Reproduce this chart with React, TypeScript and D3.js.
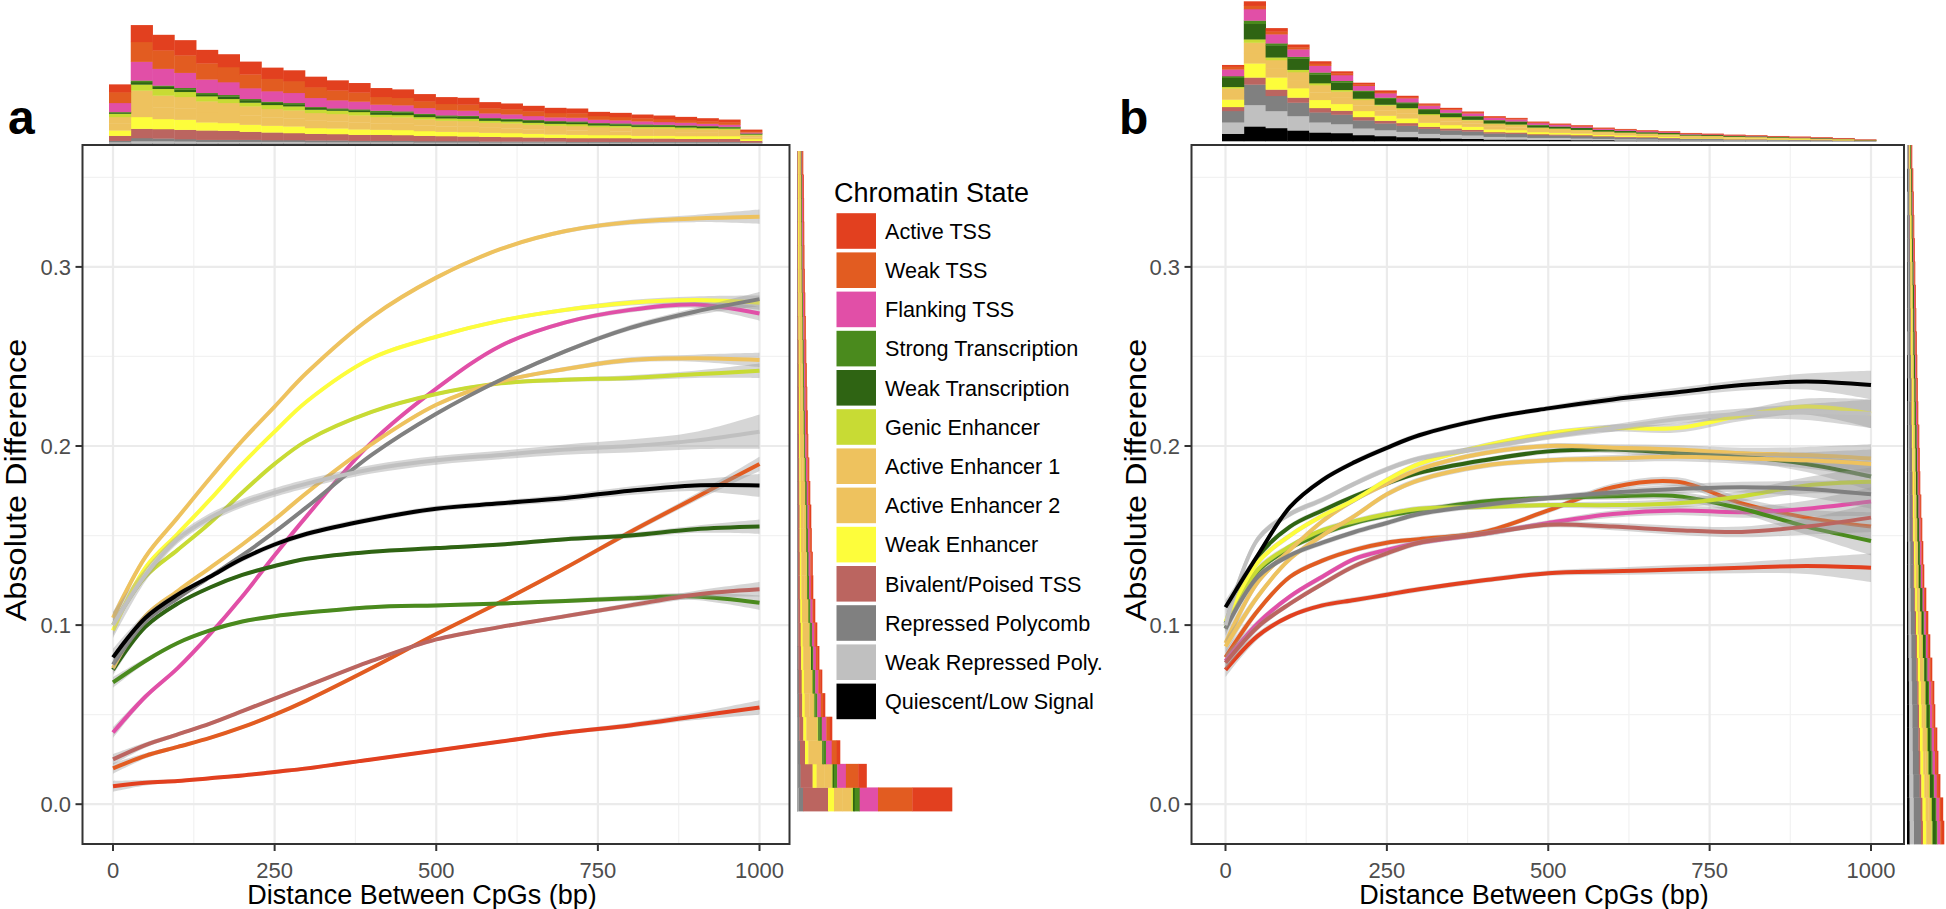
import React from "react";
import * as d3 from "d3";

const FONT = '"Liberation Sans", Arial, Helvetica, sans-serif';

// legend order; the first state sits on top of every stack
const states = [
  "Active TSS", "Weak TSS", "Flanking TSS", "Strong Transcription", "Weak Transcription",
  "Genic Enhancer", "Active Enhancer 1", "Active Enhancer 2", "Weak Enhancer",
  "Bivalent/Poised TSS", "Repressed Polycomb", "Weak Repressed Poly.", "Quiescent/Low Signal",
];
const stateColors = [
  "#E2401F", "#E25C21", "#E14FA7", "#4A8A1D", "#2F6413", "#C8DB34", "#EEC25E",
  "#EEC25E", "#FDFD3B", "#BB6560", "#808080", "#C0C0C0", "#000000",
];

// smoothed curves, sampled at these distances (bp)
const xKnots = [0, 50, 100, 150, 200, 250, 300, 400, 500, 600, 700, 800, 900, 1000];
const xTicks = [0, 250, 500, 750, 1000];
const xMinor = [125, 375, 625, 875];
const yTicks = [0, 0.1, 0.2, 0.3];
const yMinor = [0.05, 0.15, 0.25, 0.35];

// panel a, one row per state (legend order)
const curvesA = [
  [0.010, 0.012, 0.013, 0.0145, 0.016, 0.018, 0.020, 0.025, 0.030, 0.035, 0.040, 0.044, 0.049, 0.054],
  [0.020, 0.027, 0.032, 0.037, 0.043, 0.050, 0.058, 0.076, 0.095, 0.113, 0.132, 0.152, 0.171, 0.190],
  [0.040, 0.060, 0.076, 0.095, 0.116, 0.139, 0.161, 0.202, 0.232, 0.256, 0.269, 0.276, 0.279, 0.274],
  [0.068, 0.080, 0.090, 0.097, 0.102, 0.105, 0.107, 0.110, 0.111, 0.112, 0.1135, 0.115, 0.116, 0.1125],
  [0.075, 0.099, 0.112, 0.121, 0.128, 0.133, 0.137, 0.141, 0.143, 0.145, 0.148, 0.150, 0.1535, 0.155],
  [0.100, 0.127, 0.142, 0.157, 0.174, 0.190, 0.203, 0.219, 0.229, 0.235, 0.237, 0.238, 0.240, 0.242],
  [0.104, 0.138, 0.160, 0.182, 0.203, 0.222, 0.241, 0.272, 0.294, 0.310, 0.320, 0.325, 0.327, 0.328],
  [0.076, 0.105, 0.119, 0.132, 0.145, 0.159, 0.174, 0.201, 0.223, 0.236, 0.243, 0.248, 0.249, 0.248],
  [0.097, 0.132, 0.151, 0.170, 0.190, 0.208, 0.225, 0.249, 0.261, 0.270, 0.276, 0.280, 0.2815, 0.280],
  [0.025, 0.033, 0.039, 0.045, 0.052, 0.059, 0.066, 0.080, 0.092, 0.099, 0.105, 0.111, 0.117, 0.120],
  [0.078, 0.102, 0.115, 0.127, 0.139, 0.152, 0.166, 0.195, 0.218, 0.237, 0.253, 0.266, 0.275, 0.282],
  [0.100, 0.128, 0.148, 0.160, 0.168, 0.174, 0.179, 0.187, 0.192, 0.195, 0.198, 0.200, 0.203, 0.208],
  [0.082, 0.104, 0.117, 0.127, 0.137, 0.145, 0.151, 0.159, 0.165, 0.168, 0.171, 0.175, 0.178, 0.178],
];
const bandA = [0.003, 0.0015, 0.001, 0.001, 0.001, 0.001, 0.001, 0.001, 0.001, 0.001, 0.0012, 0.0015, 0.002, 0.004];
// ribbon widening per state (the weak repressed fit is the noisiest)
const bandScaleA = [1, 1, 1, 1, 1, 1, 1, 1, 1, 1, 1, 2.4, 1.6];

// panel b
const curvesB = [
  [0.075, 0.094, 0.105, 0.111, 0.114, 0.117, 0.120, 0.125, 0.129, 0.130, 0.131, 0.132, 0.133, 0.132],
  [0.082, 0.108, 0.127, 0.136, 0.142, 0.146, 0.148, 0.152, 0.164, 0.177, 0.180, 0.168, 0.160, 0.155],
  [0.080, 0.101, 0.116, 0.127, 0.137, 0.142, 0.146, 0.151, 0.157, 0.162, 0.164, 0.163, 0.165, 0.169],
  [0.098, 0.130, 0.143, 0.151, 0.157, 0.161, 0.164, 0.169, 0.171, 0.172, 0.172, 0.165, 0.155, 0.147],
  [0.101, 0.138, 0.155, 0.164, 0.172, 0.179, 0.185, 0.192, 0.197, 0.198, 0.196, 0.194, 0.190, 0.183],
  [0.100, 0.131, 0.144, 0.153, 0.158, 0.162, 0.165, 0.166, 0.167, 0.167, 0.168, 0.172, 0.178, 0.180],
  [0.090, 0.124, 0.142, 0.158, 0.170, 0.179, 0.187, 0.196, 0.200, 0.199, 0.198, 0.196, 0.195, 0.193],
  [0.088, 0.116, 0.137, 0.150, 0.161, 0.173, 0.181, 0.189, 0.192, 0.193, 0.194, 0.193, 0.192, 0.190],
  [0.102, 0.135, 0.150, 0.161, 0.170, 0.181, 0.190, 0.200, 0.207, 0.210, 0.210, 0.217, 0.222, 0.218],
  [0.079, 0.099, 0.112, 0.123, 0.133, 0.140, 0.146, 0.151, 0.156, 0.155, 0.153, 0.152, 0.155, 0.160],
  [0.098, 0.127, 0.139, 0.146, 0.152, 0.157, 0.162, 0.167, 0.171, 0.174, 0.176, 0.177, 0.176, 0.173],
  [0.100, 0.148, 0.162, 0.170, 0.179, 0.187, 0.193, 0.199, 0.205, 0.210, 0.215, 0.218, 0.219, 0.218],
  [0.110, 0.139, 0.166, 0.181, 0.191, 0.199, 0.206, 0.215, 0.221, 0.226, 0.230, 0.234, 0.236, 0.234],
];
const bandB = [0.004, 0.002, 0.0015, 0.0015, 0.0015, 0.0015, 0.0015, 0.0015, 0.0015, 0.002, 0.0025, 0.003, 0.0045, 0.008];
const bandScaleB = [1, 1, 1, 1, 1, 1, 1, 1, 1, 1, 1, 1, 1];

// top marginal histograms: 30 distance bins, columns in legend order
const topHistA = [
  [23, 32, 27, 2, 3, 10, 20, 20, 16, 15, 4, 2, 1],
  [50, 59, 56, 5, 7, 18, 40, 39, 35, 28, 9, 5, 1],
  [46, 55, 50, 4, 6, 20, 35, 35, 30, 28, 8, 5, 1],
  [45, 52, 45, 5, 7, 15, 34, 34, 30, 28, 7, 4, 1],
  [40, 48, 40, 4, 6, 15, 32, 31, 24, 28, 6, 3, 1],
  [38, 45, 38, 5, 7, 12, 30, 30, 23, 27, 6, 3, 1],
  [38, 41, 32, 4, 7, 11, 28, 27, 21, 24, 6, 3, 1],
  [33, 37, 31, 4, 6, 12, 25, 25, 20, 23, 5, 3, 1],
  [32, 35, 30, 4, 6, 12, 24, 24, 20, 21, 5, 3, 1],
  [31, 32, 27, 3, 5, 10, 23, 22, 17, 20, 5, 2, 1],
  [30, 29, 24, 3, 4, 10, 22, 21, 17, 19, 5, 2, 1],
  [28, 27, 23, 3, 5, 10, 21, 21, 16, 18, 4, 2, 1],
  [26, 23, 18, 5, 7, 7, 19, 19, 15, 18, 4, 2, 1],
  [25, 22, 18, 4, 7, 7, 19, 19, 15, 17, 4, 2, 1],
  [21, 20, 17, 4, 6, 7, 18, 17, 14, 16, 4, 1.5, 0.5],
  [20, 18, 16, 4, 5, 7, 17, 16, 13, 15, 4, 1.5, 0.5],
  [20, 18, 15, 4, 5, 7, 17, 16, 13, 14, 4, 1.5, 0.5],
  [18, 15, 14, 3, 5, 6, 15, 15, 12, 14, 3, 1.5, 0.5],
  [17, 15, 13, 3, 5, 6, 15, 14, 12, 13, 3, 1.5, 0.5],
  [16, 14, 12, 3, 5, 6, 14, 13, 11, 12, 3, 1.5, 0.5],
  [15, 13, 11, 3, 5, 6, 13, 13, 10, 11, 3, 1.5, 0.5],
  [14, 13, 11, 3, 5, 6, 13, 13, 10, 11, 2.5, 1, 0.5],
  [12, 11, 10, 3, 4, 5, 12, 12, 9, 11, 2.5, 1, 0.5],
  [12, 10, 9, 3, 4, 5, 12, 11, 9, 11, 2.5, 1, 0.5],
  [11, 9, 9, 3, 4, 5, 11, 11, 8, 10, 2.5, 1, 0.5],
  [10, 9, 8, 2, 4, 5, 11, 11, 8, 10, 2.5, 1, 0.5],
  [9, 8, 8, 2, 4, 5, 11, 10, 8, 9, 2.5, 1, 0.5],
  [9, 7, 7, 2, 4, 4, 10, 10, 8, 9, 2.5, 1, 0.5],
  [8, 7, 6, 2, 3, 4, 10, 9, 8, 9, 2.5, 1, 0.5],
  [4, 4, 3, 1, 2, 3, 6, 5, 5, 5, 1.2, 0.5, 0.3],
];
const topHistB = [
  [5, 8, 20, 5, 27, 5, 16.5, 16.5, 22, 12, 34, 34, 22],
  [13, 10, 34, 10, 46, 10, 31, 31, 42, 21, 61, 64, 44],
  [10, 8, 27, 6, 36, 8, 26, 26, 36, 19, 45, 51, 39],
  [8, 6, 22, 6, 33, 7, 24, 24, 28, 15, 40, 43, 32],
  [7, 6, 20, 6, 26, 6, 22, 22, 24, 13, 30, 30, 26],
  [6, 5, 17, 5, 22, 5, 18.5, 18.5, 20, 12, 28, 27, 24],
  [5, 4, 14, 4, 20, 4, 16.5, 16.5, 18, 10, 24, 20, 18],
  [4, 4, 13, 4, 17, 3, 15, 15, 15, 8, 20, 18, 15],
  [4, 3, 12, 3, 14, 3, 14, 14, 14, 8, 18, 16, 12],
  [3, 3, 10, 3, 12, 3, 11.5, 11.5, 12, 6, 15, 13, 9],
  [3, 2, 9, 3, 10, 3, 10.5, 10.5, 10, 6, 13, 11, 8],
  [3, 2, 8, 2, 9, 2, 9.5, 9.5, 9, 5, 12, 10, 7],
  [2, 2, 7, 2, 8, 2, 8, 8, 8, 4, 10, 8, 5],
  [2, 2, 6, 2, 7, 2, 7.5, 7.5, 7, 4, 10, 7, 5],
  [2, 2, 5, 2, 6, 2, 6, 6, 6, 3, 8, 6, 4],
  [2, 1, 5, 1, 5, 2, 5.5, 5.5, 5, 3, 7, 6, 4],
  [2, 1, 4, 1, 5, 1, 5, 5, 5, 3, 7, 5, 3],
  [2, 1, 3, 1, 4, 1, 4.5, 4.5, 4, 2, 6, 4, 3],
  [1, 1, 3, 1, 4, 1, 4, 4, 4, 2, 5, 4, 2],
  [1, 1, 3, 1, 3, 1, 3.5, 3.5, 3, 2, 5, 3, 2],
  [1, 1, 2, 1, 3, 1, 3.5, 3.5, 3, 2, 4, 2, 2],
  [1, 1, 2, 1, 2, 1, 3, 3, 2, 1, 3, 2, 2],
  [1, 0.5, 2, 0.5, 2, 1, 2.5, 2.5, 2, 1, 3, 2, 2],
  [1, 0.5, 1.5, 0.5, 2, 0.5, 2.5, 2.5, 2, 1, 2.5, 1.5, 1],
  [0.5, 0.5, 1.5, 0.5, 1.5, 0.5, 2, 2, 2, 1, 2.5, 1.5, 1],
  [0.5, 0.5, 1, 0.5, 1.5, 0.5, 2, 2, 1.5, 1, 2, 1, 1],
  [0.5, 0.5, 1, 0.5, 1, 0.5, 1.5, 1.5, 1.5, 1, 2, 1, 0.5],
  [0.5, 0.3, 1, 0.3, 1, 0.4, 1.5, 1.5, 1, 0.5, 1.5, 1, 0.5],
  [0.4, 0.3, 0.8, 0.3, 0.8, 0.4, 1.25, 1.25, 1, 0.5, 1, 0.5, 0.5],
  [0.2, 0.1, 0.4, 0.1, 0.4, 0.2, 0.5, 0.5, 0.5, 0.2, 0.5, 0.2, 0.2],
];

// right marginal histograms: absolute-difference bins, lowest bin first
const sideHistA = [
  [39.7, 34.3, 18.3, 5, 1.7, 1.7, 8.7, 8.6, 6, 25, 4.5, 1.2, 0.3],
  [8.3, 12.3, 8.7, 3.3, 1.3, 1, 7.5, 7.5, 4, 12, 2.5, 0.8, 0.3],
  [3.3, 5, 5.7, 2.7, 1, 0.7, 6.6, 6.7, 3.3, 5, 2, 0.7, 0.3],
  [2.2, 3.5, 4.5, 2.5, 1, 1, 5.5, 5.5, 3, 4, 1.6, 0.5, 0.2],
  [2, 2.2, 3.5, 2, 0.8, 0.8, 4.5, 4.5, 2.5, 3.2, 1.5, 0.4, 0.1],
  [1.8, 1.9, 3, 1.8, 0.8, 0.7, 4, 4, 2.3, 2.9, 1.4, 0.3, 0.1],
  [1.6, 1.6, 2.6, 1.6, 0.7, 0.6, 3.6, 3.6, 2.1, 2.6, 1.2, 0.2, 0.1],
  [1.4, 1.4, 2.3, 1.5, 0.6, 0.6, 3.3, 3.3, 1.9, 2.4, 1.1, 0.2, 0],
  [1.3, 1.2, 2.1, 1.3, 0.6, 0.5, 3, 3, 1.7, 2.1, 1, 0.2, 0],
  [1.1, 1.1, 1.8, 1.2, 0.5, 0.5, 2.7, 2.7, 1.5, 1.9, 0.8, 0.2, 0],
  [1.1, 1, 1.8, 1.1, 0.5, 0.5, 2.6, 2.6, 1.5, 1.8, 0.8, 0.2, 0],
  [1, 1, 1.6, 1.1, 0.4, 0.4, 2.5, 2.5, 1.4, 1.7, 0.7, 0.2, 0],
  [1, 0.9, 1.6, 1, 0.4, 0.4, 2.4, 2.4, 1.3, 1.7, 0.7, 0.2, 0],
  [0.9, 0.9, 1.5, 0.9, 0.4, 0.4, 2.2, 2.2, 1.2, 1.6, 0.6, 0.2, 0],
  [0.8, 0.8, 1.4, 0.8, 0.4, 0.4, 2, 2, 1.1, 1.5, 0.6, 0.2, 0],
  [0.8, 0.7, 1.3, 0.7, 0.3, 0.3, 1.9, 1.9, 1, 1.4, 0.5, 0.2, 0],
  [0.8, 0.7, 1.2, 0.7, 0.3, 0.3, 1.8, 1.8, 1, 1.3, 0.5, 0.1, 0],
  [0.7, 0.7, 1.2, 0.6, 0.3, 0.3, 1.7, 1.7, 0.9, 1.3, 0.5, 0.1, 0],
  [0.7, 0.6, 1.1, 0.6, 0.3, 0.3, 1.6, 1.6, 0.9, 1.2, 0.5, 0.1, 0],
  [0.7, 0.6, 1, 0.6, 0.3, 0.3, 1.5, 1.5, 0.8, 1.2, 0.4, 0.1, 0],
  [0.6, 0.6, 1, 0.5, 0.2, 0.3, 1.5, 1.5, 0.8, 1.1, 0.3, 0.1, 0],
  [0.6, 0.5, 0.9, 0.5, 0.2, 0.3, 1.4, 1.4, 0.8, 1, 0.3, 0.1, 0],
  [0.6, 0.5, 0.9, 0.5, 0.2, 0.2, 1.3, 1.3, 0.7, 0.9, 0.3, 0.1, 0],
  [0.5, 0.5, 0.8, 0.5, 0.2, 0.2, 1.3, 1.3, 0.7, 0.9, 0.2, 0.1, 0],
  [0.5, 0.5, 0.8, 0.4, 0.2, 0.2, 1.3, 1.3, 0.7, 0.8, 0.2, 0.1, 0],
  [0.5, 0.4, 0.8, 0.4, 0.2, 0.2, 1.2, 1.2, 0.7, 0.8, 0.3, 0.1, 0],
  [0.5, 0.4, 0.7, 0.4, 0.2, 0.2, 1.2, 1.2, 0.6, 0.8, 0.2, 0.1, 0],
  [0.4, 0.4, 0.7, 0.4, 0.2, 0.2, 1.1, 1.1, 0.6, 0.7, 0.2, 0, 0],
];
const sideHistB = [
  [2.2, 1.5, 3, 1.5, 3.3, 1.1, 2.6, 2.6, 3.3, 1.9, 7, 4.4, 2.6],
  [2.2, 1.4, 2.9, 1.4, 3.2, 1.1, 2.5, 2.5, 3.2, 1.8, 6.9, 4.3, 2.5],
  [2, 1.3, 2.6, 1.3, 3, 1, 2.3, 2.3, 3, 1.7, 6.3, 4, 2.3],
  [1.9, 1.2, 2.5, 1.2, 2.8, 0.9, 2.2, 2.2, 2.8, 1.6, 5.9, 3.7, 2.2],
  [1.8, 1.2, 2.4, 1.2, 2.7, 0.9, 2.1, 2.1, 2.7, 1.5, 5.7, 3.6, 2.1],
  [1.7, 1.1, 2.2, 1.1, 2.5, 0.8, 2, 2, 2.5, 1.4, 5.3, 3.4, 2],
  [1.6, 1.1, 2.2, 1.1, 2.4, 0.8, 1.9, 1.9, 2.4, 1.4, 5.1, 3.2, 1.9],
  [1.5, 1, 2, 1, 2.3, 0.8, 1.7, 1.7, 2.3, 1.3, 4.7, 3, 1.7],
  [1.4, 0.9, 1.8, 0.9, 2.1, 0.7, 1.6, 1.6, 2.1, 1.2, 4.4, 2.8, 1.5],
  [1.3, 0.8, 1.7, 0.8, 1.9, 0.6, 1.5, 1.5, 1.9, 1.1, 4, 2.5, 1.4],
  [1.1, 0.8, 1.5, 0.8, 1.7, 0.6, 1.3, 1.3, 1.7, 1, 3.6, 2.3, 1.3],
  [1, 0.7, 1.4, 0.7, 1.5, 0.5, 1.2, 1.2, 1.5, 0.9, 3.2, 2, 1.2],
  [1, 0.6, 1.3, 0.6, 1.4, 0.5, 1.1, 1.1, 1.4, 0.8, 3, 2, 1.2],
  [0.9, 0.6, 1.2, 0.6, 1.4, 0.5, 1.1, 1.1, 1.4, 0.8, 2.8, 1.8, 0.8],
  [0.8, 0.6, 1.1, 0.6, 1.3, 0.4, 1, 1, 1.3, 0.7, 2.7, 1.7, 0.8],
  [0.8, 0.5, 1, 0.5, 1.2, 0.4, 0.9, 0.9, 1.2, 0.7, 2.5, 1.6, 0.8],
  [0.8, 0.5, 1, 0.5, 1.1, 0.4, 0.9, 0.9, 1.1, 0.6, 2.4, 1.5, 0.8],
  [0.7, 0.5, 1, 0.5, 1.1, 0.4, 0.8, 0.8, 1.1, 0.6, 2.3, 1.4, 0.8],
  [0.7, 0.4, 0.9, 0.4, 1, 0.3, 0.8, 0.8, 1, 0.6, 2.1, 1.3, 0.7],
  [0.6, 0.4, 0.8, 0.4, 0.9, 0.3, 0.7, 0.7, 0.9, 0.5, 2, 1.3, 1],
  [0.6, 0.4, 0.8, 0.4, 0.9, 0.3, 0.7, 0.7, 0.9, 0.5, 1.9, 1.2, 0.7],
  [0.6, 0.4, 0.8, 0.4, 0.9, 0.3, 0.7, 0.7, 0.9, 0.5, 1.8, 1.1, 0.4],
  [0.5, 0.4, 0.7, 0.4, 0.8, 0.3, 0.6, 0.6, 0.8, 0.5, 1.7, 1.1, 0.6],
  [0.5, 0.3, 0.7, 0.3, 0.8, 0.3, 0.6, 0.6, 0.8, 0.4, 1.6, 1, 0.6],
  [0.5, 0.3, 0.6, 0.3, 0.7, 0.2, 0.6, 0.6, 0.7, 0.4, 1.5, 1, 0.6],
  [0.5, 0.3, 0.6, 0.3, 0.7, 0.2, 0.5, 0.5, 0.7, 0.4, 1.4, 0.9, 0.5],
  [0.4, 0.3, 0.6, 0.3, 0.6, 0.2, 0.5, 0.5, 0.6, 0.4, 1.3, 0.8, 0.5],
  [0.4, 0.3, 0.5, 0.3, 0.6, 0.2, 0.5, 0.5, 0.6, 0.3, 1.2, 0.8, 0.3],
  [0.4, 0.2, 0.5, 0.2, 0.5, 0.2, 0.4, 0.4, 0.5, 0.3, 1.1, 0.7, 0.6],
  [0.3, 0.2, 0.4, 0.2, 0.5, 0.2, 0.4, 0.4, 0.5, 0.3, 0.9, 0.6, 0.1],
];

const panels = [
  {
    tag: "a", tagX: 8, left: 82.5, right: 789.5, x0: 113, x1: 759.5,
    curves: curvesA, band: bandA, bandScale: bandScaleA,
    top: topHistA, topX: [109, 762], topBase: 143,
    side: sideHistA, sideY: [811, 151], sideX: [797, 952], sideMax: 155,
    yLabelX: 71, yTitleX: 26, xTitleX: 422,
  },
  {
    tag: "b", tagX: 1119, left: 1191.5, right: 1904, x0: 1225.5, x1: 1871,
    curves: curvesB, band: bandB, bandScale: bandScaleB,
    top: topHistB, topX: [1222, 1876], topBase: 141,
    side: sideHistB, sideY: [844, 145], sideX: [1907, 1944], sideMax: 37,
    yLabelX: 1180, yTitleX: 1146, xTitleX: 1534,
  },
];

const TOP = 145;
const BOTTOM = 844;

const stacker = d3
  .stack<number[], number>()
  .keys(d3.range(states.length).reverse())
  .value((row, k) => row[k]);

function Panel({ p }: { p: (typeof panels)[number] }) {
  const x = d3.scaleLinear().domain([0, 1000]).range([p.x0, p.x1]);
  const y = d3.scaleLinear().domain([0, 0.3]).range([804.2, 266.9]);

  const curve = d3.curveCatmullRom.alpha(0.5);
  const line = d3
    .line<number>()
    .x((_, i) => x(xKnots[i]))
    .y(v => y(v))
    .curve(curve);
  const ribbon = (c: number[], k: number) =>
    d3
      .area<number>()
      .x((_, i) => x(xKnots[i]))
      .y0((v, i) => y(v - p.band[i] * k))
      .y1((v, i) => y(v + p.band[i] * k))
      .curve(curve)(c);

  // top histogram (counts by distance)
  const bw = 1000 / 29;
  const xm = d3.scaleLinear().domain([-bw / 2, 1000 + bw / 2]).range(p.topX);
  const hTop = d3.scaleLinear().domain([0, 100]).range([0, 33.5]);
  const topSeries = stacker(p.top);

  // right histogram (counts by absolute difference)
  const ym = d3.scaleLinear().domain([0, p.side.length]).range(p.sideY);
  const xs = d3.scaleLinear().domain([0, p.sideMax]).range([p.sideX[0], p.sideX[1]]);
  const sideSeries = stacker(p.side);

  return (
    <g>
      {/* grid */}
      <rect x={p.left} y={TOP} width={p.right - p.left} height={BOTTOM - TOP} fill="#fff" />
      {yMinor.map(v => (
        <line key={"ym" + v} x1={p.left} x2={p.right} y1={y(v)} y2={y(v)} stroke="#F2F2F2" strokeWidth={1.2} />
      ))}
      {xMinor.map(v => (
        <line key={"xm" + v} x1={x(v)} x2={x(v)} y1={TOP} y2={BOTTOM} stroke="#F2F2F2" strokeWidth={1.2} />
      ))}
      {yTicks.map(v => (
        <line key={"yg" + v} x1={p.left} x2={p.right} y1={y(v)} y2={y(v)} stroke="#EBEBEB" strokeWidth={2.2} />
      ))}
      {xTicks.map(v => (
        <line key={"xg" + v} x1={x(v)} x2={x(v)} y1={TOP} y2={BOTTOM} stroke="#EBEBEB" strokeWidth={2.2} />
      ))}

      {/* smooth fits */}
      {p.curves.map((c, i) => (
        <g key={"c" + i}>
          <path d={ribbon(c, p.bandScale[i]) ?? ""} fill="#999999" fillOpacity={0.4} />
          <path d={line(c) ?? ""} fill="none" stroke={stateColors[i]} strokeWidth={4} strokeLinecap="butt" />
        </g>
      ))}

      <rect x={p.left} y={TOP} width={p.right - p.left} height={BOTTOM - TOP} fill="none" stroke="#333333" strokeWidth={2} />

      {/* axes */}
      {xTicks.map(v => (
        <g key={"xt" + v}>
          <line x1={x(v)} x2={x(v)} y1={BOTTOM} y2={BOTTOM + 7} stroke="#333333" strokeWidth={2} />
          <text x={x(v)} y={878} textAnchor="middle" fontSize={22} fill="#4D4D4D">{v}</text>
        </g>
      ))}
      {yTicks.map(v => (
        <g key={"yt" + v}>
          <line x1={p.left - 7} x2={p.left} y1={y(v)} y2={y(v)} stroke="#333333" strokeWidth={2} />
          <text x={p.yLabelX} y={y(v)} dy="0.36em" textAnchor="end" fontSize={22} fill="#4D4D4D">
            {d3.format(".1f")(v)}
          </text>
        </g>
      ))}
      <text x={p.xTitleX} y={904} textAnchor="middle" fontSize={27} fill="#000">
        Distance Between CpGs (bp)
      </text>
      <text
        transform={`translate(${p.yTitleX},480) rotate(-90) scale(1.12,1)`}
        textAnchor="middle"
        fontSize={29}
        fill="#000"
      >
        Absolute Difference
      </text>

      {/* marginal histograms */}
      {topSeries.map(s => (
        <g key={"ts" + s.key} fill={stateColors[s.key as number]}>
          {s.map((d, i) => {
            const h = hTop(d[1] - d[0]);
            if (h <= 0) return null;
            return (
              <rect
                key={i}
                x={xm(-bw / 2 + i * bw)}
                width={xm(bw) - xm(0) + 0.4}
                y={p.topBase - hTop(d[1])}
                height={h + 0.3}
              />
            );
          })}
        </g>
      ))}
      {sideSeries.map(s => (
        <g key={"ss" + s.key} fill={stateColors[s.key as number]}>
          {s.map((d, i) => {
            const w = xs(d[1]) - xs(d[0]);
            if (w <= 0) return null;
            return (
              <rect key={i} x={xs(d[0])} width={w + 0.3} y={ym(i + 1)} height={ym(i) - ym(i + 1) + 0.4} />
            );
          })}
        </g>
      ))}

      <text x={p.tagX} y={134} fontSize={48} fontWeight="bold" fill="#000">{p.tag}</text>
    </g>
  );
}

export default function App() {
  const keyY = d3.scaleLinear().domain([0, 1]).range([231, 270.2]);
  return (
    <svg
      width={1946}
      height={909}
      style={{ position: "absolute", left: 0, top: 0, background: "#fff" }}
      fontFamily={FONT}
    >
      <rect width={1946} height={909} fill="#fff" />
      {panels.map(p => (
        <Panel key={p.tag} p={p} />
      ))}
      <g>
        <text x={834} y={202} fontSize={27} fill="#000">Chromatin State</text>
        {states.map((s, i) => (
          <g key={s}>
            <rect x={836.5} y={keyY(i) - 17.8} width={39.5} height={35.6} fill={stateColors[i]} />
            <text x={885} y={keyY(i)} dy="0.36em" fontSize={21.6} fill="#000">{s}</text>
          </g>
        ))}
      </g>
    </svg>
  );
}
